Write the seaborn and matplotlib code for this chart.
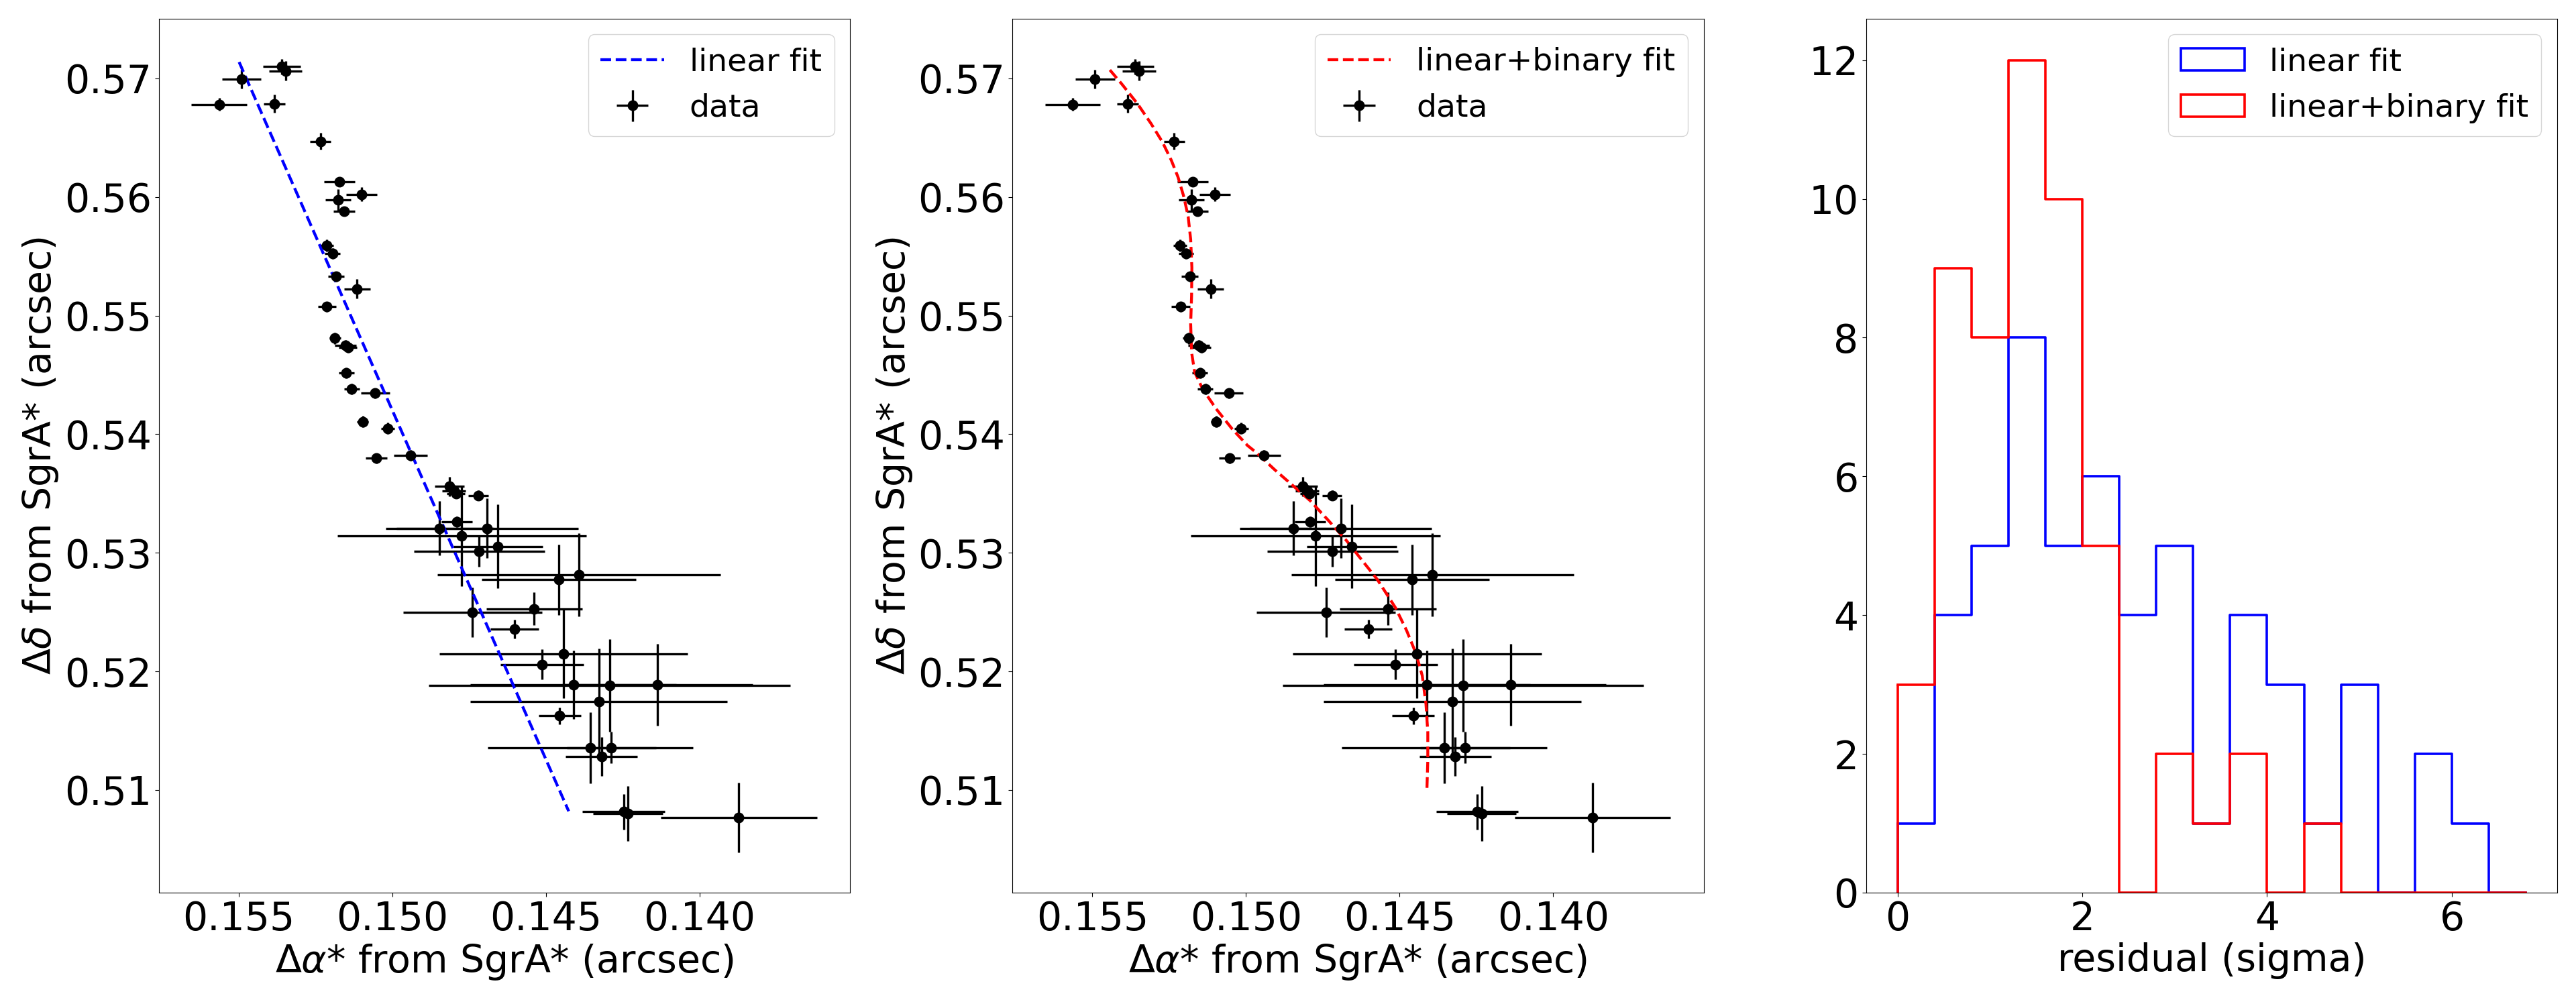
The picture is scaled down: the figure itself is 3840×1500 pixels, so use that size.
import numpy as np
import pandas as pd
import matplotlib
matplotlib.use("Agg")
import matplotlib.pyplot as plt
import matplotlib.patches as mpatches
import seaborn as sns

# === Astrometry of the star relative to SgrA* (arcsec) === #
ra = [0.15564, 0.15491, 0.15360, 0.15348, 0.15385, 0.15234, 0.15173, 0.15101,
      0.15177, 0.15157, 0.15214, 0.15195, 0.15183, 0.15115, 0.15213, 0.15187,
      0.15153, 0.15145, 0.15150, 0.15132, 0.15056, 0.15097, 0.15015, 0.15053,
      0.14941, 0.14815, 0.14800, 0.14793, 0.14720, 0.14791, 0.14846, 0.14691,
      0.14774, 0.14656, 0.14718, 0.14393, 0.14459, 0.14739, 0.14538, 0.14602,
      0.14443, 0.14513, 0.14411, 0.14293, 0.14138, 0.14328, 0.14455, 0.14355,
      0.14287, 0.14319, 0.14247, 0.14233, 0.13872]
dec = [0.56781, 0.56993, 0.57100, 0.57064, 0.56786, 0.56469, 0.56126, 0.56024,
       0.55976, 0.55881, 0.55590, 0.55524, 0.55329, 0.55226, 0.55076, 0.54810,
       0.54750, 0.54731, 0.54517, 0.54381, 0.54345, 0.54107, 0.54048, 0.53798,
       0.53821, 0.53560, 0.53524, 0.53502, 0.53483, 0.53262, 0.53207, 0.53207,
       0.53143, 0.53055, 0.53012, 0.52814, 0.52774, 0.52500, 0.52529, 0.52357,
       0.52150, 0.52060, 0.51888, 0.51881, 0.51888, 0.51745, 0.51626, 0.51357,
       0.51357, 0.51281, 0.50817, 0.50802, 0.50767]
ra_err = [0.00090, 0.00064, 0.00061, 0.00054, 0.00035, 0.00034, 0.00050, 0.00050,
          0.00042, 0.00035, 0.00022, 0.00025, 0.00027, 0.00043, 0.00030, 0.00018,
          0.00035, 0.00030, 0.00025, 0.00025, 0.00047, 0.00018, 0.00022, 0.00035,
          0.00054, 0.00048, 0.00038, 0.00030, 0.00032, 0.00050, 0.00175, 0.00296,
          0.00406, 0.00146, 0.00213, 0.00460, 0.00251, 0.00226, 0.00157, 0.00078,
          0.00405, 0.00136, 0.00336, 0.00588, 0.00310, 0.00419, 0.00069, 0.00334,
          0.00146, 0.00117, 0.00134, 0.00113, 0.00254]
dec_err = [0.00055, 0.00080, 0.00065, 0.00083, 0.00076, 0.00070, 0.00035, 0.00060,
           0.00090, 0.00036, 0.00050, 0.00043, 0.00043, 0.00080, 0.00043, 0.00048,
           0.00043, 0.00043, 0.00043, 0.00043, 0.00043, 0.00048, 0.00048, 0.00043,
           0.00043, 0.00083, 0.00050, 0.00045, 0.00043, 0.00043, 0.00230, 0.00250,
           0.00424, 0.00352, 0.00129, 0.00352, 0.00298, 0.00210, 0.00137, 0.00079,
           0.00376, 0.00127, 0.00288, 0.00390, 0.00345, 0.00448, 0.00071, 0.00300,
           0.00133, 0.00163, 0.00150, 0.00231, 0.00294]

# === Model tracks === #
lin_ra = [0.15499, 0.14426]
lin_dec = [0.57138, 0.50821]

orb_ra = [0.15443, 0.15404, 0.15353, 0.15309, 0.15272, 0.15243, 0.15221, 0.15202,
          0.15188, 0.15180, 0.15176, 0.15177, 0.15180, 0.15177, 0.15167, 0.15141,
          0.15097, 0.15046, 0.14995, 0.14966, 0.14907, 0.14849, 0.14791, 0.14732,
          0.14674, 0.14623, 0.14572, 0.14513, 0.14477, 0.14447, 0.14426, 0.14414,
          0.14408, 0.14408, 0.14411]
orb_dec = [0.57071, 0.56952, 0.56786, 0.56619, 0.56464, 0.56310, 0.56167, 0.56000,
           0.55833, 0.55643, 0.55405, 0.55167, 0.54929, 0.54690, 0.54524, 0.54381,
           0.54214, 0.54048, 0.53905, 0.53845, 0.53702, 0.53571, 0.53440, 0.53274,
           0.53107, 0.52940, 0.52774, 0.52536, 0.52345, 0.52155, 0.51964, 0.51726,
           0.51488, 0.51250, 0.50993]

# === Residual histograms (sigma) === #
res_edges = [0.0, 0.4, 0.8, 1.2, 1.6, 2.0, 2.4, 2.8, 3.2, 3.6, 4.0, 4.4, 4.8,
             5.2, 5.6, 6.0, 6.4, 6.8]
lin_counts = [1, 4, 5, 8, 5, 6, 4, 5, 1, 4, 3, 1, 3, 0, 2, 1, 0]
orb_counts = [3, 9, 8, 12, 10, 5, 0, 2, 1, 2, 0, 1, 0, 0, 0, 0, 0]

TICK_FS = 42
LABEL_FS = 41
LEG_FS = 34
HIST_LW = 2.6

fig, axes = plt.subplots(1, 3, figsize=(38.4, 15), dpi=100)
plt.subplots_adjust(left=0.0617, right=0.9927, bottom=0.1127, top=0.9816, wspace=0.235)

tracks = [
    (lin_ra, lin_dec, "blue", "linear fit"),
    (orb_ra, orb_dec, "red", "linear+binary fit"),
]

for ax, (tx, ty, col, lab) in zip(axes[:2], tracks):
    ax.errorbar(ra, dec, xerr=ra_err, yerr=dec_err, fmt="o", color="k",
                ms=10.5, elinewidth=2.4, capsize=0, label="data")
    track = pd.DataFrame({"ra": tx, "dec": ty})
    sns.lineplot(data=track, x="ra", y="dec", sort=False, estimator=None,
                 color=col, linestyle="--", linewidth=3.1, label=lab, ax=ax)
    ax.set_xlim(0.1576, 0.1351)
    ax.set_ylim(0.50135, 0.57505)
    ax.set_xticks([0.155, 0.150, 0.145, 0.140])
    ax.set_yticks([0.51, 0.52, 0.53, 0.54, 0.55, 0.56, 0.57])
    ax.set_xlabel(r"$\Delta\alpha$* from SgrA* (arcsec)", fontsize=LABEL_FS)
    ax.set_ylabel(r"$\Delta\delta$ from SgrA* (arcsec)", fontsize=LABEL_FS)
    ax.legend(loc="upper right", fontsize=LEG_FS)

# === Residual distributions === #
ax3 = axes[2]
mids = [(a + b) / 2 for a, b in zip(res_edges[:-1], res_edges[1:])]
for counts, col in [(lin_counts, "blue"), (orb_counts, "red")]:
    hist_df = pd.DataFrame({"residual": mids, "n": counts})
    sns.histplot(data=hist_df, x="residual", weights="n", bins=res_edges,
                 element="step", fill=False, color=col, linewidth=HIST_LW, ax=ax3)
    # close the outline down to the baseline on the left edge, like a step hist
    ax3.vlines(res_edges[0], 0, counts[0], color=col, linewidth=HIST_LW)
ax3.set_xlim(-0.34, 7.14)
ax3.set_ylim(0, 12.6)
ax3.set_xticks([0, 2, 4, 6])
ax3.set_yticks([0, 2, 4, 6, 8, 10, 12])
ax3.set_xlabel("residual (sigma)", fontsize=LABEL_FS)
ax3.set_ylabel("")
handles = [mpatches.Patch(fill=False, edgecolor="blue", linewidth=HIST_LW, label="linear fit"),
           mpatches.Patch(fill=False, edgecolor="red", linewidth=HIST_LW, label="linear+binary fit")]
ax3.legend(handles=handles, loc="upper right", fontsize=LEG_FS)

for ax in axes:
    ax.tick_params(labelsize=TICK_FS, length=4.5)

fig.savefig("out.png", dpi=100)
